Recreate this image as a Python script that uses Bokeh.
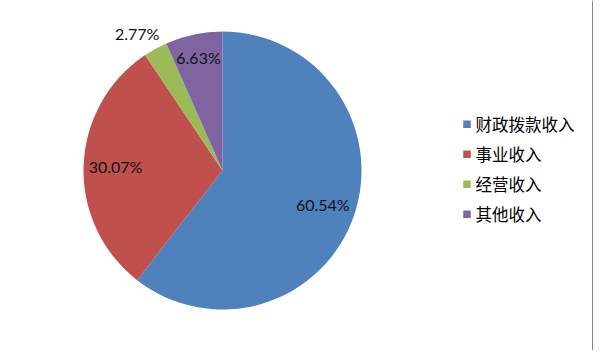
import math
from bokeh.plotting import figure
from bokeh.models import Range1d, Span, ColumnDataSource
from bokeh.core.properties import value
from bokeh.embed import file_html
from bokeh.resources import INLINE

# ---- data ----
categories = ["财政拨款收入", "事业收入", "经营收入", "其他收入"]
shares = [60.54, 30.07, 2.77, 6.63]
labels = ["60.54%", "30.07%", "2.77%", "6.63%"]
colors = ["#4F81BD", "#C0504D", "#9BBB59", "#8064A2"]

# ---- layout (figure pixel space, y up) ----
W, H = 593, 350
CX, CY = 222, 180          # pie centre
R = 139                    # pie radius (px)
label_r = [106, 107, 156, 116]
label_dx = [0, 0, -10, 0]

p = figure(width=W, height=H, output_backend="svg", toolbar_location=None,
           x_range=Range1d(0, W), y_range=Range1d(0, H), min_border=0)
p.axis.visible = False
p.grid.visible = False
p.outline_line_color = None
p.background_fill_color = "white"
p.border_fill_color = "white"

total = sum(shares)
starts, ends, mids = [], [], []
cum = 0.0
for s in shares:
    a0 = math.pi / 2 - 2 * math.pi * cum / total
    cum += s
    a1 = math.pi / 2 - 2 * math.pi * cum / total
    starts.append(a0)
    ends.append(a1)
    mids.append((a0 + a1) / 2)

src = ColumnDataSource(dict(x=[CX] * len(shares), y=[CY] * len(shares),
                            start=starts, end=ends, color=colors))
p.wedge(x="x", y="y", radius=R, radius_units="screen", start_angle="start",
        end_angle="end", direction="clock", fill_color="color",
        line_color=None, source=src)

lx = [CX + r * math.cos(m) + dx for r, m, dx in zip(label_r, mids, label_dx)]
ly = [CY + r * math.sin(m) for r, m in zip(label_r, mids)]
p.text(x=lx, y=ly, text=labels, text_align="center", text_baseline="middle",
       text_font=value("Lato"), text_font_size="16px", text_color="#111111")

# legend (manual)
leg_x_sq = 466.5
leg_x_txt = 475
leg_y0 = H - 123.7
leg_step = 30
leg_y = [leg_y0 - i * leg_step for i in range(len(categories))]
p.scatter(x=[leg_x_sq] * len(categories), y=leg_y, marker="square", size=7.5,
          fill_color=colors, line_color=None)
p.text(x=[leg_x_txt] * len(categories), y=leg_y, text=categories,
       text_align="left", text_baseline="middle",
       text_font=value("Noto Sans CJK SC"), text_font_size="16.5px",
       text_color="#000000")

# right border of chart area
p.add_layout(Span(location=W - 0.75, dimension="height",
                  line_color="#888888", line_width=1.5))

open("out.html", "w").write(file_html(p, INLINE))
